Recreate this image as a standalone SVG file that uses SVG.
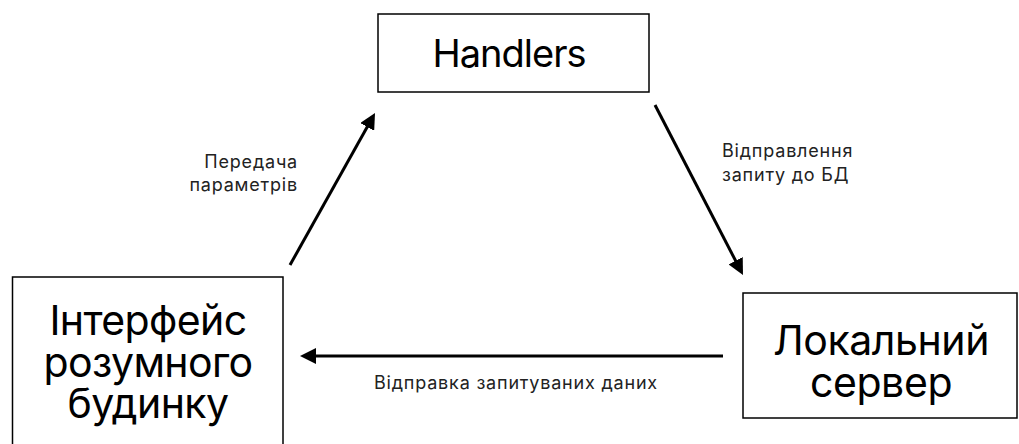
<svg xmlns="http://www.w3.org/2000/svg" width="1019" height="444" viewBox="0 0 1019 444">
<style>
.box{fill:#fff;stroke:#000;stroke-width:1.5}
.big{font-family:Inter,"Noto Sans",sans-serif;fill:#000;text-anchor:middle}
.lbl{font-family:Inter,"Noto Sans",sans-serif;font-size:18px;letter-spacing:0.8px;fill:#222}
.conn{stroke:#000;stroke-width:3;fill:none;marker-end:url(#ah)}
</style>
<defs>
<marker id="ah" markerUnits="userSpaceOnUse" viewBox="0 0 16 16" markerWidth="16" markerHeight="16" refX="8" refY="8" orient="auto">
<path d="M0,0 L16,8 L0,16 z" fill="#000"/>
</marker>
</defs>
<rect width="1019" height="444" fill="#fff"/>
<g id="handlers">
<rect class="box" x="378" y="14" width="271" height="78"/>
<text class="big" x="509" y="67" font-size="38" letter-spacing="-1">Handlers</text>
</g>
<g id="interface">
<rect class="box" x="12.5" y="277" width="270.5" height="180"/>
<text class="big" x="148" y="335" font-size="41" letter-spacing="-0.6">Інтерфейс</text>
<text class="big" x="148" y="377" font-size="41" letter-spacing="-0.6">розумного</text>
<text class="big" x="148" y="418" font-size="41" letter-spacing="-0.6">будинку</text>
</g>
<g id="server">
<rect class="box" x="743" y="293" width="274" height="125"/>
<text class="big" x="881" y="355" font-size="41" letter-spacing="-0.4">Локальний</text>
<text class="big" x="881" y="397" font-size="41" letter-spacing="-0.4">сервер</text>
</g>
<g id="connectors">
<line class="conn" x1="290" y1="265" x2="371.1" y2="120"/>
<line class="conn" x1="655" y1="105" x2="739.3" y2="267.9"/>
<line class="conn" x1="723" y1="356" x2="308" y2="356"/>
<text class="lbl" x="298" y="168" text-anchor="end">Передача</text>
<text class="lbl" x="298" y="191" text-anchor="end">параметрів</text>
<text class="lbl" x="722" y="157">Відправлення</text>
<text class="lbl" x="722" y="181">запиту до БД</text>
<text class="lbl" x="516" y="389" text-anchor="middle">Відправка запитуваних даних</text>
</g>
</svg>
